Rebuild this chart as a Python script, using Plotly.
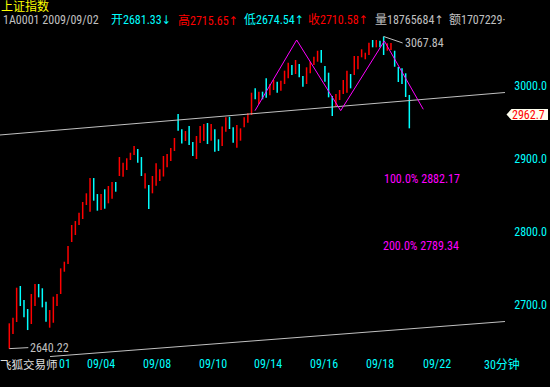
import plotly.graph_objects as go

# ---------------- data ----------------
highs = [2674.9, 2682.6, 2723.7, 2726.0, 2706.8, 2694.5, 2715.1, 2728.8, 2728.8, 2722.9,
         2704.5, 2693.1, 2711.4, 2715.1, 2750.2, 2759.3, 2780.8, 2809.6, 2815.0, 2826.4,
         2841.1, 2853.0, 2873.9, 2873.9, 2852.0, 2852.0, 2858.5, 2863.0, 2868.5, 2868.5,
         2902.7, 2894.9, 2901.0, 2908.6, 2917.8, 2913.7, 2902.7, 2880.4, 2864.4, 2876.7,
         2894.1, 2885.9, 2904.1, 2906.8, 2915.1, 2928.8, 2961.6, 2940.7, 2938.3, 2945.2,
         2923.3, 2931.5, 2945.2, 2947.9, 2949.3, 2947.9, 2940.7, 2927.0, 2944.5, 2957.1,
         2957.9, 2943.4, 2946.6, 2942.0, 2957.1, 2962.6, 2990.8, 2996.8, 2992.2, 2992.2,
         3010.5, 3002.7, 3008.2, 3005.9, 3007.3, 3021.0, 3031.9, 3028.8, 3035.6, 3030.1,
         3013.7, 3025.6, 3033.3, 3040.1, 3048.3, 3049.3, 3027.4, 3018.2, 2986.3, 2989.0,
         2994.5, 3008.2, 3021.0, 3016.4, 3041.1, 3041.1, 3050.3, 3045.6, 3059.3, 3063.0,
         3063.0, 3062.0, 3067.84, 3058.5, 3058.9, 3048.3, 3026.0, 3024.2, 3017.4, 2987.7]
lows = [2640.22, 2660.3, 2676.7, 2698.6, 2683.1, 2665.7, 2674.0, 2698.6, 2710.5, 2696.8,
        2677.1, 2668.9, 2675.7, 2698.6, 2715.1, 2745.6, 2756.2, 2786.3, 2795.9, 2809.6,
        2817.8, 2837.0, 2827.8, 2842.9, 2829.2, 2830.1, 2831.9, 2839.3, 2845.6, 2855.2,
        2876.7, 2875.7, 2884.9, 2898.6, 2905.5, 2894.9, 2876.7, 2859.6, 2831.5, 2853.0,
        2863.4, 2869.9, 2876.0, 2888.6, 2897.3, 2911.0, 2938.8, 2921.2, 2924.7, 2919.2,
        2904.1, 2900.0, 2921.9, 2924.7, 2920.5, 2925.1, 2910.0, 2911.0, 2917.8, 2937.4,
        2941.1, 2922.3, 2915.5, 2925.1, 2943.4, 2949.7, 2960.3, 2981.8, 2975.3, 2981.8,
        2984.0, 2987.3, 2994.5, 2990.8, 2993.6, 3002.7, 3010.5, 3015.1, 3016.4, 3011.9,
        2999.0, 3002.7, 3017.4, 3028.8, 3033.3, 3031.9, 3005.9, 2984.5, 2958.9, 2972.6,
        2980.8, 2989.0, 2990.8, 2996.8, 3015.1, 3022.9, 3039.3, 3036.6, 3042.5, 3053.0,
        3053.0, 3053.0, 3042.5, 3048.3, 3049.3, 3026.4, 3005.5, 3002.7, 2984.9, 2942.0]
up = [1, 1, 1, 0, 0, 0, 1, 1, 0, 0,
      0, 1, 1, 1, 1, 1, 1, 1, 1, 1,
      1, 1, 1, 0, 0, 1, 0, 1, 1, 0,
      1, 1, 1, 1, 1, 0, 0, 1, 0, 1,
      1, 1, 1, 1, 1, 1, 0, 0, 1, 0,
      0, 1, 1, 1, 0, 1, 0, 0, 1, 1,
      0, 0, 1, 1, 1, 1, 1, 0, 1, 0,
      0, 1, 1, 0, 1, 1, 1, 0, 1, 0,
      0, 1, 1, 1, 1, 0, 0, 0, 0, 1,
      1, 1, 1, 0, 1, 1, 1, 1, 1, 0,
      1, 0, 0, 1, 1, 0, 0, 0, 0, 0]
last_close = 2962.7
peak_value = 3067.84
low_value = 2640.22

# trend lines (bar index, price)
upper_line_x = [-2.53, 135.06]
upper_line_y = [2932.9, 2991.1]
lower_line_x = [11.1, 135.06]
lower_line_y = [2629.4, 2677.4]
# head & shoulders zigzag
zigzag_x = [66.95, 78.3, 90.3, 102.2, 112.8]
zigzag_y = [2966.2, 3063.0, 2966.2, 3061.6, 2968.1]

date_labels = ["09/04", "09/08", "09/10", "09/14", "09/16", "09/18", "09/22"]
price_ticks = [2700, 2800, 2900, 3000]
target_labels = ["100.0% 2882.17", "200.0% 2789.34"]
header_parts = ["1A0001 2009/09/02", "开2681.33↓", "高2715.65↑", "低2674.54↑",
                "收2710.58↑", "量18765684↑", "额1707229·"]

# ---------------- figure ----------------
W, H = 550, 387
RED, CYAN, GRAY, MAG, YEL = "#FF0000", "#00FFFF", "#C0C0C0", "#FF00FF", "#FFFF00"
FONT = "Liberation Sans Narrow, Roboto Condensed, DejaVu Sans Condensed, Liberation Mono, Noto Sans CJK SC"
CJK = "Noto Sans CJK SC"

idx = list(range(len(highs)))
opens = [lo if u else hi for hi, lo, u in zip(highs, lows, up)]
closes = [hi if u else lo for hi, lo, u in zip(highs, lows, up)]
closes[-1] = last_close

fig = go.Figure()
fig.add_trace(go.Ohlc(x=idx, open=opens, high=highs, low=lows, close=closes,
                      increasing=dict(line=dict(color=RED, width=1.5)),
                      decreasing=dict(line=dict(color=CYAN, width=1.5)),
                      tickwidth=0, hoverinfo="skip", showlegend=False))
for xs, ys in [(upper_line_x, upper_line_y), (lower_line_x, lower_line_y)]:
    fig.add_trace(go.Scatter(x=xs, y=ys, mode="lines", line=dict(color=GRAY, width=1),
                             hoverinfo="skip", showlegend=False))
fig.add_trace(go.Scatter(x=zigzag_x, y=zigzag_y, mode="lines", line=dict(color=MAG, width=1),
                         hoverinfo="skip", showlegend=False))

def px2i(px):
    return (px - 9.3) / 3.67

def ann(text, px, py, color, size=12, xanchor="left", family=FONT, yanchor="middle", **kw):
    return dict(text=text, x=px / W, y=1 - py / H, xref="paper", yref="paper",
                xanchor=xanchor, yanchor=yanchor, showarrow=False,
                font=dict(color=color, size=size, family=family), **kw)

annotations = []
annotations.append(ann("上证指数", 0, 6.8, YEL, size=12, borderpad=0))
header_x = [2, 110, 177, 243, 307, 374, 448]
header_c = [GRAY, CYAN, RED, CYAN, RED, GRAY, GRAY]
for t, x, c in zip(header_parts, header_x, header_c):
    annotations.append(ann(t, x, 20, c, borderpad=0))

# date labels along the bottom
date_px = [101, 157, 212.5, 268, 324, 380, 437]
for t, p in zip(date_labels, date_px):
    annotations.append(dict(text=t, x=px2i(p), xref="x", y=1 - 364 / H, yref="paper",
                            xanchor="center", yanchor="middle", showarrow=False,
                            font=dict(color=CYAN, size=12, family=FONT)))
annotations.append(ann("飞狐交易师", -1, 364, "#E0E0E0", size=11.5, family=CJK, borderpad=0))
annotations.append(ann("01", 58, 364, CYAN, size=12, borderpad=0))
annotations.append(ann("30分钟", 482, 364, CYAN, size=12))

# target labels
annotations.append(ann(target_labels[0], 382, 179, MAG))
annotations.append(ann(target_labels[1], 381, 246.5, MAG))

# extreme labels
annotations.append(dict(text=f"{peak_value:.2f}", x=102, y=peak_value, xref="x", yref="y",
                        ax=19, ay=6.5, xanchor="left", yanchor="middle", showarrow=True,
                        arrowhead=0, arrowwidth=1, arrowcolor=GRAY, standoff=0,
                        font=dict(color=GRAY, size=12, family=FONT)))
annotations.append(dict(text=f"{low_value:.2f}", x=0, y=low_value, xref="x", yref="y",
                        ax=19, ay=-1, xanchor="left", yanchor="middle", showarrow=True,
                        arrowhead=0, arrowwidth=1, arrowcolor=GRAY, standoff=0,
                        font=dict(color=GRAY, size=12, family=FONT)))

# last price tag
annotations.append(ann(f"{last_close:.1f}", 547, 114.5, RED, xanchor="right"))

def P(px, py):
    return f"{px / W:.5f},{1 - py / H:.5f}"

tag_path = "M " + " L ".join([P(506.5, 114.5), P(511.5, 109), P(548, 109), P(548, 120), P(511.5, 120)]) + " Z"
shapes = [dict(type="path", path=tag_path, xref="paper", yref="paper",
               fillcolor="#FFFFF0", line=dict(width=0), layer="above")]

y_top = 3000 + 86 * 100 / 73
y_bot = 3000 - (H - 86) * 100 / 73

fig.update_layout(
    width=W, height=H, margin=dict(l=0, r=0, t=0, b=0),
    paper_bgcolor="#000000", plot_bgcolor="#000000",
    showlegend=False, annotations=annotations, shapes=shapes,
    xaxis=dict(range=[px2i(0), px2i(W)], domain=[0, 1], visible=False,
               rangeslider=dict(visible=False), fixedrange=True),
    yaxis=dict(range=[y_bot, y_top], domain=[0, 1], side="right",
               tickvals=price_ticks, ticktext=[f"{v:.1f}" for v in price_ticks],
               ticklabelposition="inside", ticks="", showgrid=False, zeroline=False,
               showline=False, automargin=False, fixedrange=True,
               tickfont=dict(color=CYAN, size=12, family=FONT)),
)

fig.write_html("out.html", config={"displayModeBar": False},
               post_script="document.body.style.margin='0';document.body.style.background='#000';")
